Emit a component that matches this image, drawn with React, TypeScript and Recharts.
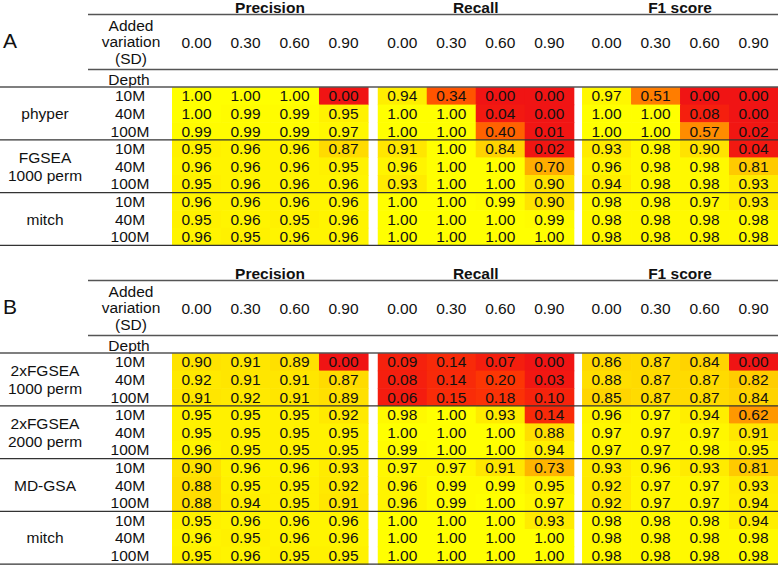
import { ScatterChart, Scatter, XAxis, YAxis } from "recharts";

// column / row labels
const variations = ["0.00", "0.30", "0.60", "0.90"];
const metrics = ["Precision", "Recall", "F1 score"];
const depths = ["10M", "40M", "100M"];

// panel A
const methodsA = [["phyper"], ["FGSEA", "1000 perm"], ["mitch"]];
const precisionA = [
  [1.0, 1.0, 1.0, 0.0], [1.0, 0.99, 0.99, 0.95], [0.99, 0.99, 0.99, 0.97],
  [0.95, 0.96, 0.96, 0.87], [0.96, 0.96, 0.96, 0.95], [0.95, 0.96, 0.96, 0.96],
  [0.96, 0.96, 0.96, 0.96], [0.95, 0.96, 0.95, 0.96], [0.96, 0.95, 0.96, 0.96],
];
const recallA = [
  [0.94, 0.34, 0.0, 0.0], [1.0, 1.0, 0.04, 0.0], [1.0, 1.0, 0.4, 0.01],
  [0.91, 1.0, 0.84, 0.02], [0.96, 1.0, 1.0, 0.7], [0.93, 1.0, 1.0, 0.9],
  [1.0, 1.0, 0.99, 0.9], [1.0, 1.0, 1.0, 0.99], [1.0, 1.0, 1.0, 1.0],
];
const f1A = [
  [0.97, 0.51, 0.0, 0.0], [1.0, 1.0, 0.08, 0.0], [1.0, 1.0, 0.57, 0.02],
  [0.93, 0.98, 0.9, 0.04], [0.96, 0.98, 0.98, 0.81], [0.94, 0.98, 0.98, 0.93],
  [0.98, 0.98, 0.97, 0.93], [0.98, 0.98, 0.98, 0.98], [0.98, 0.98, 0.98, 0.98],
];

// panel B
const methodsB = [["2xFGSEA", "1000 perm"], ["2xFGSEA", "2000 perm"], ["MD-GSA"], ["mitch"]];
const precisionB = [
  [0.9, 0.91, 0.89, 0.0], [0.92, 0.91, 0.91, 0.87], [0.91, 0.92, 0.91, 0.89],
  [0.95, 0.95, 0.95, 0.92], [0.95, 0.95, 0.95, 0.95], [0.96, 0.95, 0.95, 0.95],
  [0.9, 0.96, 0.96, 0.93], [0.88, 0.95, 0.95, 0.92], [0.88, 0.94, 0.95, 0.91],
  [0.95, 0.96, 0.96, 0.96], [0.96, 0.95, 0.96, 0.96], [0.95, 0.96, 0.95, 0.95],
];
const recallB = [
  [0.09, 0.14, 0.07, 0.0], [0.08, 0.14, 0.2, 0.03], [0.06, 0.15, 0.18, 0.1],
  [0.98, 1.0, 0.93, 0.14], [1.0, 1.0, 1.0, 0.88], [0.99, 1.0, 1.0, 0.94],
  [0.97, 0.97, 0.91, 0.73], [0.96, 0.99, 0.99, 0.95], [0.96, 0.99, 1.0, 0.97],
  [1.0, 1.0, 1.0, 0.93], [1.0, 1.0, 1.0, 1.0], [1.0, 1.0, 1.0, 1.0],
];
const f1B = [
  [0.86, 0.87, 0.84, 0.0], [0.88, 0.87, 0.87, 0.82], [0.85, 0.87, 0.87, 0.84],
  [0.96, 0.97, 0.94, 0.62], [0.97, 0.97, 0.97, 0.91], [0.97, 0.97, 0.98, 0.95],
  [0.93, 0.96, 0.93, 0.81], [0.92, 0.97, 0.97, 0.93], [0.92, 0.97, 0.97, 0.94],
  [0.98, 0.98, 0.98, 0.94], [0.98, 0.98, 0.98, 0.98], [0.98, 0.98, 0.98, 0.98],
];

// layout
const W = 778;
const LEFT = 172;
const HEAD = 87;
const ROW_H = 17.6;
const GROUP_START = [0, 4.2, 8.37];
const X_MAX = 12.37;
const CELL_PX = (W - LEFT) / X_MAX;
const FONT = "'Liberation Sans', Arial, Helvetica, sans-serif";
const FS = 15.5;
const LINE = "#555";

function heat(v: number) {
  const t = Math.max(0, Math.min(1, v));
  const k = Math.min(1, t * 4);
  const r = Math.round(240 + 15 * k);
  const g = Math.round(20 + 235 * Math.pow(t, 1.2));
  const b = Math.round(20 * (1 - k));
  return `rgb(${r},${g},${b})`;
}

function CellShape(props: any) {
  const { cx, cy, payload } = props;
  return (
    <g>
      <rect
        x={cx - CELL_PX / 2}
        y={cy - ROW_H / 2}
        width={CELL_PX + 0.6}
        height={ROW_H + 0.6}
        fill={heat(payload.v)}
      />
      <text x={cx} y={cy + 5.6} textAnchor="middle" fontSize={FS} fill="#111" fontFamily={FONT}>
        {payload.v.toFixed(2)}
      </text>
    </g>
  );
}

type PanelProps = {
  letter: string;
  methods: string[][];
  values: number[][][];
  height: number;
};

function Panel({ letter, methods, values, height }: PanelProps) {
  const nRows = methods.length * depths.length;
  const plotH = nRows * ROW_H;
  const cells = values.flatMap((rows, m) =>
    rows.flatMap((row, r) => row.map((v, c) => ({ x: GROUP_START[m] + c + 0.5, y: r + 0.5, v })))
  );
  const xTicks = GROUP_START.flatMap((g) => variations.map((_, c) => g + c + 0.5));
  const yTicks = Array.from({ length: nRows }, (_, i) => i + 0.5);

  const colTick = (p: any) => {
    const i = p.index;
    const m = Math.floor(i / variations.length);
    const c = i % variations.length;
    return (
      <g>
        <text x={p.x} y={47.5} textAnchor="middle" fontSize={FS} fill="#111" fontFamily={FONT}>
          {variations[c]}
        </text>
        {c === 1 && (
          <text
            x={p.x + CELL_PX / 2}
            y={13}
            textAnchor="middle"
            fontSize={FS}
            fontWeight="bold"
            fill="#111"
            fontFamily={FONT}
          >
            {metrics[m]}
          </text>
        )}
      </g>
    );
  };

  const rowTick = (p: any) => {
    const i = Math.floor(p.payload.value);
    const d = i % depths.length;
    const g = Math.floor(i / depths.length);
    const lines = methods[g] || [];
    return (
      <g>
        <text x={130} y={p.y + 5.6} textAnchor="middle" fontSize={FS} fill="#111" fontFamily={FONT}>
          {depths[d]}
        </text>
        {d === 1 &&
          lines.map((s, k) => (
            <text
              key={k}
              x={45}
              y={p.y + 5.6 + (k - (lines.length - 1) / 2) * 18}
              textAnchor="middle"
              fontSize={FS}
              fill="#111"
              fontFamily={FONT}
            >
              {s}
            </text>
          ))}
      </g>
    );
  };

  const groupLines = Array.from({ length: methods.length + 1 }, (_, k) => HEAD + k * depths.length * ROW_H);

  return (
    <div style={{ position: "relative", width: W, height }}>
      <ScatterChart width={W} height={height} margin={{ top: 0, right: 0, bottom: height - HEAD - plotH, left: 0 }}>
        <XAxis
          type="number"
          dataKey="x"
          orientation="top"
          domain={[0, X_MAX]}
          ticks={xTicks}
          interval={0}
          height={HEAD}
          axisLine={false}
          tickLine={false}
          tick={colTick}
        />
        <YAxis
          type="number"
          dataKey="y"
          domain={[0, nRows]}
          reversed
          ticks={yTicks}
          interval={0}
          width={LEFT}
          axisLine={false}
          tickLine={false}
          tick={rowTick}
        />
        <Scatter data={cells} isAnimationActive={false} shape={CellShape} />
      </ScatterChart>
      <svg
        width={W}
        height={height}
        style={{ position: "absolute", left: 0, top: 0, pointerEvents: "none" }}
      >
        <text x={3} y={48} fontSize={21} fill="#111" fontFamily={FONT}>
          {letter}
        </text>
        {["Added", "variation", "(SD)"].map((s, k) => (
          <text key={s} x={131} y={30.5 + k * 16.5} textAnchor="middle" fontSize={FS} fill="#111" fontFamily={FONT}>
            {s}
          </text>
        ))}
        <text x={129} y={84.5} textAnchor="middle" fontSize={FS} fill="#111" fontFamily={FONT}>
          Depth
        </text>
        <line x1={88} x2={W} y1={14.5} y2={14.5} stroke={LINE} strokeWidth={1.3} />
        <line x1={88} x2={W} y1={69.5} y2={69.5} stroke={LINE} strokeWidth={1.3} />
        {groupLines.map((y, k) => (
          <line key={k} x1={0} x2={W} y1={y} y2={y} stroke={k === 0 ? LINE : "#333"} strokeWidth={1.3} />
        ))}
      </svg>
    </div>
  );
}

export default function App() {
  return (
    <div style={{ position: "absolute", left: 0, top: 0, width: W, height: 566, background: "#fff" }}>
      <Panel letter="A" methods={methodsA} values={[precisionA, recallA, f1A]} height={266} />
      <Panel letter="B" methods={methodsB} values={[precisionB, recallB, f1B]} height={300} />
    </div>
  );
}
